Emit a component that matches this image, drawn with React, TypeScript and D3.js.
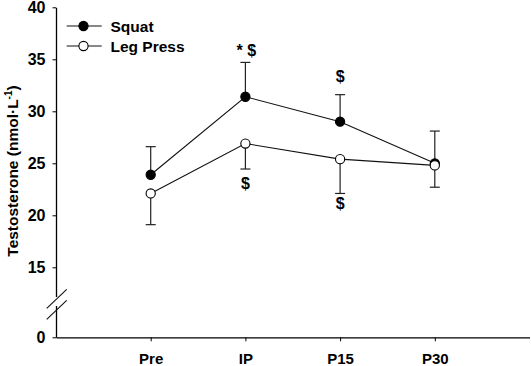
import { useEffect, useRef } from "react"
import * as d3 from "d3"

const timepoints = ["Pre", "IP", "P15", "P30"]
const squatMean = [23.9, 31.4, 29.0, 25.0]
const squatSD = [2.7, 3.3, 2.6, 3.1]
const legPressMean = [22.1, 26.9, 25.4, 24.8]
const legPressSD = [3.0, 2.45, 3.3, 2.1]
const yTicks = [0, 15, 20, 25, 30, 35, 40]

// significance marks: [timepoint index, value at text centre, label]
const marksAbove: [number, number, string][] = [[1, 35.9, "* $"], [2, 33.4, "$"]]
const marksBelow: [number, number, string][] = [[1, 23.1, "$"], [2, 21.1, "$"]]

const font = "'Liberation Sans', Arial, sans-serif"

function App() {
    const ref = useRef<SVGSVGElement>(null)

    useEffect(() => {
        const svg = d3.select(ref.current)
        svg.selectAll("*").remove()

        const x = d3.scaleLinear().domain([0, 5]).range([56, 529.5])
        const y = d3.scaleLinear().domain([0, 15, 40]).range([337.3, 267.3, 7.3])

        // Axes
        const yAxis = svg.append("g")
            .attr("transform", "translate(56,0)")
            .call(d3.axisLeft(y).tickValues(yTicks).tickSize(3.5).tickPadding(7).tickSizeOuter(0))
        yAxis.select(".domain").attr("stroke-width", 1.3)
        yAxis.selectAll("text")
            .attr("font-family", font).attr("font-size", 16).attr("font-weight", "bold").attr("fill", "#000")

        const xAxis = svg.append("g")
            .attr("transform", "translate(0,337.3)")
            .call(d3.axisBottom(x).tickValues([1, 2, 3, 4]).tickFormat((d) => timepoints[+d - 1])
                .tickSize(4).tickPadding(12).tickSizeOuter(0))
        xAxis.select(".domain").attr("stroke-width", 1.3)
        xAxis.selectAll("text")
            .attr("font-family", font).attr("font-size", 15).attr("font-weight", "bold").attr("fill", "#000")

        // Axis break
        const brk = svg.append("g")
        brk.append("rect").attr("x", 54).attr("y", 297).attr("width", 4).attr("height", 9).attr("fill", "#fff")
        brk.append("line").attr("x1", 46.7).attr("y1", 308.3).attr("x2", 66.7).attr("y2", 289.3)
            .attr("stroke", "#111").attr("stroke-width", 1.1)
        brk.append("line").attr("x1", 46.7).attr("y1", 319.3).attr("x2", 66.7).attr("y2", 300.3)
            .attr("stroke", "#111").attr("stroke-width", 1.1)

        // Y title
        const title = svg.append("text")
            .attr("transform", "translate(18,171) rotate(-90)")
            .attr("text-anchor", "middle")
            .attr("font-family", font).attr("font-size", 15.5).attr("font-weight", "bold")
        title.append("tspan").text("Testosterone (nmol·L")
        title.append("tspan").attr("font-size", 10).attr("dy", -6).text("-1")
        title.append("tspan").attr("dy", 6).text(")")

        const series = [
            { mean: squatMean, sd: squatSD, dir: -1, fill: "#000" },
            { mean: legPressMean, sd: legPressSD, dir: 1, fill: "#fff" },
        ]

        const line = d3.line<number>().x((d, i) => x(i + 1)).y((d) => y(d))

        // Error bars
        for (const s of series) {
            s.mean.forEach((m, i) => {
                const end = s.dir < 0 ? m + s.sd[i] : m - s.sd[i]
                svg.append("line").attr("x1", x(i + 1)).attr("x2", x(i + 1))
                    .attr("y1", y(m)).attr("y2", y(end)).attr("stroke", "#222").attr("stroke-width", 1.2)
                svg.append("line").attr("x1", x(i + 1) - 5).attr("x2", x(i + 1) + 5)
                    .attr("y1", y(end)).attr("y2", y(end)).attr("stroke", "#222").attr("stroke-width", 1.2)
            })
        }

        // Lines + markers
        for (const s of [series[1], series[0]]) {
            svg.append("path").attr("d", line(s.mean)).attr("fill", "none")
                .attr("stroke", "#111").attr("stroke-width", 1.1)
        }
        for (const s of [series[0], series[1]]) {
            svg.selectAll(null).data(s.mean).enter().append("circle")
                .attr("cx", (d, i) => x(i + 1)).attr("cy", (d) => y(d)).attr("r", 4.6)
                .attr("fill", s.fill).attr("stroke", "#000").attr("stroke-width", 1.1)
        }

        // Significance marks
        for (const [i, v, t] of [...marksAbove, ...marksBelow]) {
            svg.append("text").attr("x", x(i + 1) + (t.length > 1 ? 1 : 0)).attr("y", y(v))
                .attr("dy", "0.35em").attr("text-anchor", "middle").attr("fill", "#000")
                .attr("font-family", font).attr("font-size", 16).attr("font-weight", "bold")
                .text(t)
        }

        // Legend
        const legend = svg.append("g")
        const items = [
            { label: "Squat", fill: "#000", yy: 26 },
            { label: "Leg Press", fill: "#fff", yy: 46 },
        ]
        for (const it of items) {
            legend.append("line").attr("x1", 66.7).attr("x2", 101.7).attr("y1", it.yy).attr("y2", it.yy)
                .attr("stroke", "#111").attr("stroke-width", 1.1)
            legend.append("circle").attr("cx", 83.5).attr("cy", it.yy).attr("r", 4.6)
                .attr("fill", it.fill).attr("stroke", "#000").attr("stroke-width", 1.1)
            legend.append("text").attr("x", 110.5).attr("y", it.yy).attr("dy", "0.36em")
                .attr("font-family", font).attr("font-size", 15.5).attr("font-weight", "bold")
                .text(it.label)
        }
    }, [])

    return (
        <svg ref={ref} width={531} height={366}
            style={{ position: "absolute", left: 0, top: 0, background: "#fff" }} />
    )
}

export default App
